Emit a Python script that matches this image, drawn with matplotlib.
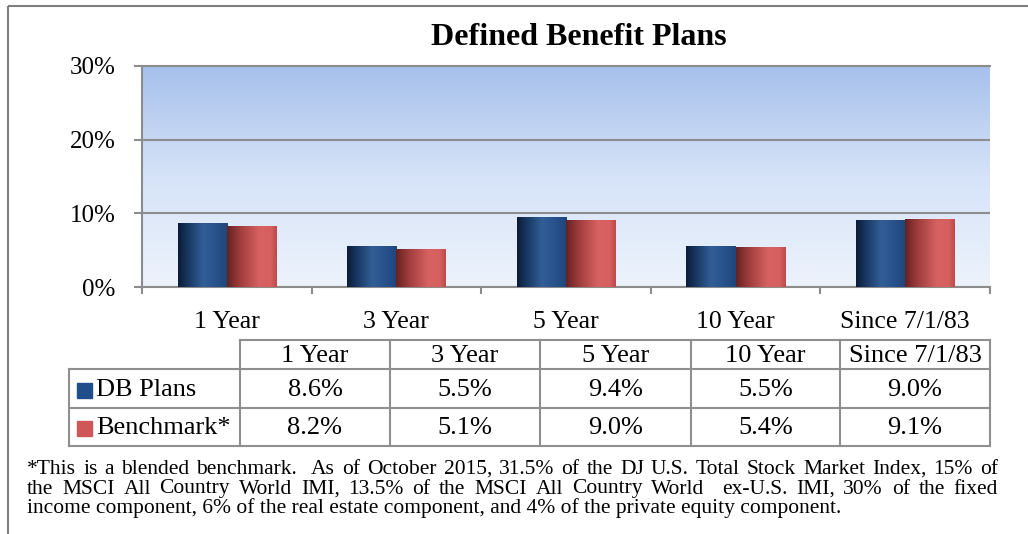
import numpy as np
import matplotlib
matplotlib.use('Agg')
import matplotlib.pyplot as plt
from matplotlib.colors import LinearSegmentedColormap
from matplotlib.patches import Rectangle

plt.rcParams['font.family'] = ['Liberation Serif', 'DejaVu Serif']

categories = ['1 Year', '3 Year', '5 Year', '10 Year', 'Since 7/1/83']
db_plans = [8.6, 5.5, 9.4, 5.5, 9.0]
benchmark = [8.2, 5.1, 9.0, 5.4, 9.1]
series_names = ['DB Plans', 'Benchmark*']
y_ticks = [0, 10, 20, 30]
title = 'Defined Benefit Plans'
footnote = [
    '*This is a blended benchmark.  As of October 2015, 31.5% of the DJ U.S. Total Stock Market Index, 15% of',
    'the MSCI All Country World IMI, 13.5% of the MSCI All Country World  ex-U.S. IMI, 30% of the fixed',
    'income component, 6% of the real estate component, and 4% of the private equity component.',
]

W, H = 1028, 534
GRAY = '#8c8c8c'
fig = plt.figure(figsize=(W / 100, H / 100), dpi=100)

# overlay in pixel coords for frame, table and footnote
ov = fig.add_axes([0, 0, 1, 1], zorder=0)
ov.set_xlim(0, W)
ov.set_ylim(H, 0)
ov.axis('off')

ov.plot([8, W], [6, 6], color='#7f7f7f', lw=1.5, solid_capstyle='butt')
ov.plot([8, 8], [6, H], color='#7f7f7f', lw=1.5, solid_capstyle='butt')

fig.text(579 / W, 1 - 37 / H, title, ha='center', va='center',
         fontsize=23, fontweight='bold')

# chart
ax = fig.add_axes([142 / W, 1 - 287 / H, 848 / W, 221 / H], zorder=1)
ax.patch.set_visible(False)
bg = LinearSegmentedColormap.from_list('bg', ['#edf3fc', '#d6e3f8', '#a6c0ec'])
ax.imshow(np.linspace(0, 1, 256).reshape(-1, 1)[::-1], cmap=bg, aspect='auto',
          extent=[0, 1, 0, 1], transform=ax.transAxes, zorder=-2)

x = np.arange(len(categories))
bw = 0.29
b1 = ax.bar(x - bw / 2, db_plans, bw, color='#2a578f', zorder=2)
b2 = ax.bar(x + bw / 2, benchmark, bw, color='#c85555', zorder=2)

# cylinder-like shading on each bar
blue_cm = LinearSegmentedColormap.from_list('b', [(0, '#0c1c36'), (0.18, '#17355f'),
                                                 (0.5, '#325e97'), (0.8, '#27508a'),
                                                 (1, '#1f467c')])
red_cm = LinearSegmentedColormap.from_list('r', [(0, '#652222'), (0.25, '#9e3c3c'),
                                                (0.65, '#d86262'), (0.88, '#d65f5f'),
                                                (1, '#bd4a4a')])
grad = np.linspace(0, 1, 128).reshape(1, -1)
for bars, cm in ((b1, blue_cm), (b2, red_cm)):
    for b in bars:
        ax.imshow(grad, cmap=cm, aspect='auto', zorder=3,
                  extent=[b.get_x(), b.get_x() + b.get_width(), 0, b.get_height()])

ax.set_xlim(-0.5, len(categories) - 0.5)
ax.set_ylim(0, 30)
ax.set_yticks(y_ticks)
ax.set_yticklabels([f'{t}%' for t in y_ticks], fontsize=18)
ax.yaxis.grid(True, color=GRAY, lw=1.5)
ax.set_axisbelow(True)
ax.tick_params(axis='y', length=6, width=1.5, color=GRAY, pad=13)

ax.set_xticks(np.arange(len(categories) + 1) - 0.5)
ax.set_xticklabels([])
ax.set_xticks(x, minor=True)
ax.set_xticklabels(categories, minor=True, fontsize=18.5)
ax.tick_params(axis='x', which='major', length=5, width=1.5, color=GRAY)
ax.tick_params(axis='x', which='minor', length=0, pad=17)

ax.spines['right'].set_visible(False)
for s in ['left', 'bottom', 'top']:
    ax.spines[s].set_color(GRAY)
    ax.spines[s].set_linewidth(1.5)

# table
col_x = [69, 240, 390, 540, 691, 840, 990]
row_y = [340, 369, 408, 446]
tc = '#8f8f8f'
ov.plot([col_x[1], col_x[-1]], [row_y[0]] * 2, color=tc, lw=1.5)
for yy in row_y[1:]:
    ov.plot([col_x[0], col_x[-1]], [yy] * 2, color=tc, lw=1.5)
ov.plot([col_x[0]] * 2, [row_y[1], row_y[-1]], color=tc, lw=1.5)
for xx in col_x[1:]:
    ov.plot([xx] * 2, [row_y[0], row_y[-1]], color=tc, lw=1.5)

for i, c in enumerate(categories):
    cx = (col_x[i + 1] + col_x[i + 2]) / 2
    ov.text(cx, (row_y[0] + row_y[1]) / 2 + 1, c, ha='center', va='center', fontsize=19)
rows = [db_plans, benchmark]
sq_colors = ['#1f4e8a', '#cf5757']
for r, vals in enumerate(rows):
    cy = (row_y[r + 1] + row_y[r + 2]) / 2 + 1
    ov.add_patch(Rectangle((77, cy - 7), 15, 15, color=sq_colors[r]))
    ov.text(96, cy, series_names[r], ha='left', va='center', fontsize=19)
    for i, v in enumerate(vals):
        cx = (col_x[i + 1] + col_x[i + 2]) / 2
        ov.text(cx, cy, f'{v:.1f}%', ha='center', va='center', fontsize=19)

# justified footnote
renderer = fig.canvas.get_renderer()
left, right = 27, 998
base = [474, 493.5, 513]
fs = 15.5
for li, line in enumerate(footnote):
    words = line.split(' ')
    if li == len(footnote) - 1:
        ov.text(left, base[li], line, ha='left', va='baseline', fontsize=fs)
        continue
    arts = [ov.text(0, base[li], w, ha='left', va='baseline', fontsize=fs) for w in words]
    widths = [a.get_window_extent(renderer).width if w else 0 for a, w in zip(arts, words)]
    gap = (right - left - sum(widths)) / (len(words) - 1)
    xx = left
    for a, wd in zip(arts, widths):
        a.set_x(xx)
        xx += wd + gap

fig.savefig('out.png', dpi=100)
